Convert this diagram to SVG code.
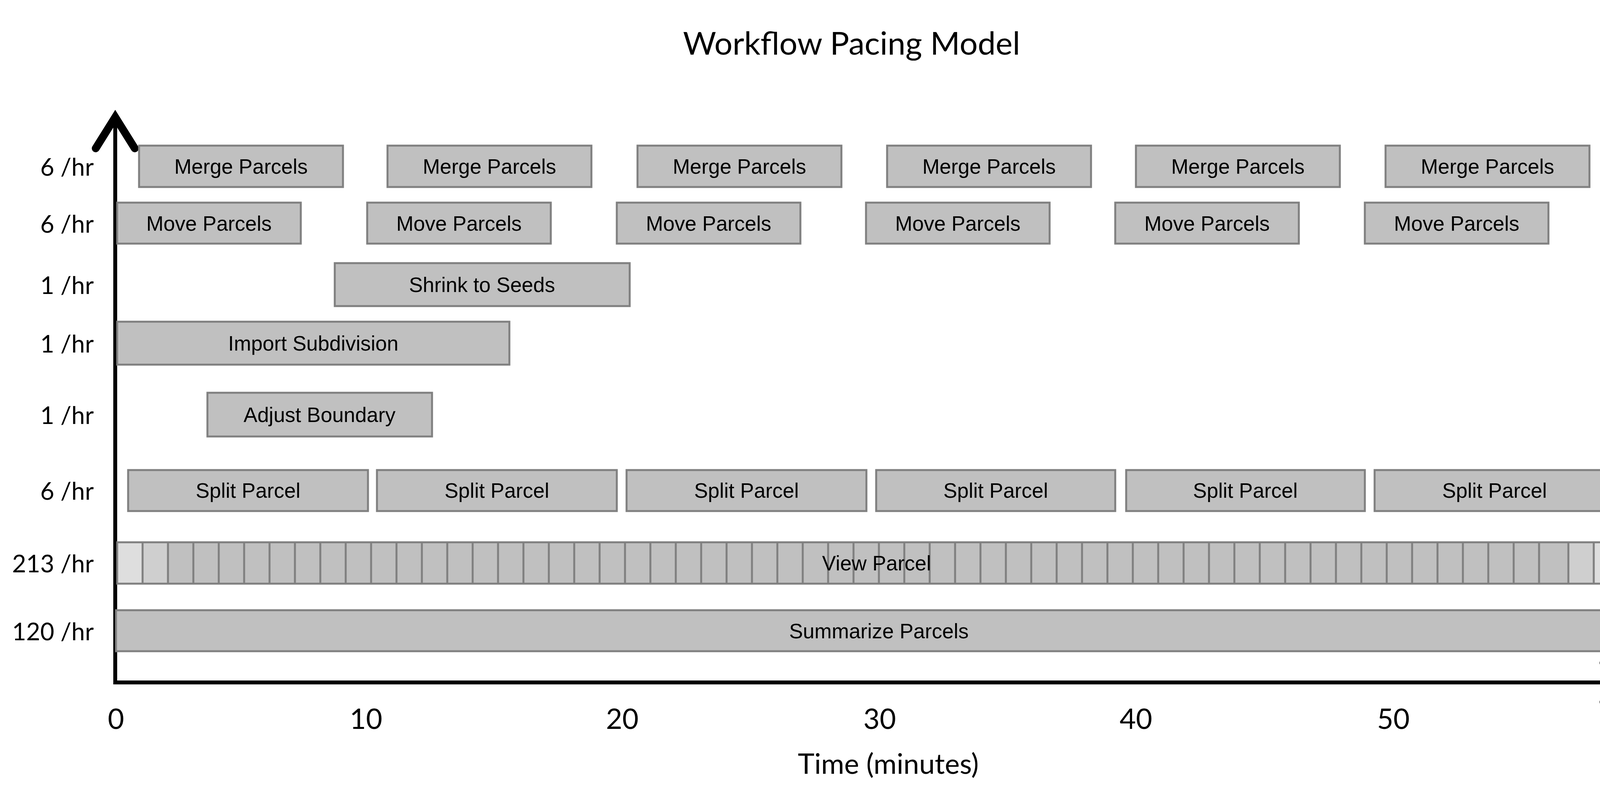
<svg xmlns="http://www.w3.org/2000/svg" width="4345" height="2044" viewBox="0 0 4345 2044">
<style>
.b{fill:#c0c0c0;stroke:#808080;stroke-width:5}
.t{font-family:"Liberation Sans",Arial,sans-serif;font-size:53px;text-anchor:middle;dominant-baseline:central;fill:#000}
.r{font-family:Lato,"Open Sans",sans-serif;font-size:62px;text-anchor:end;dominant-baseline:central}
.d{font-family:"Liberation Sans",Arial,sans-serif;font-size:46px;dominant-baseline:central}
.k{font-family:Lato,"Open Sans",sans-serif;font-size:72px;text-anchor:middle}
.ax{stroke:#000;stroke-width:10;fill:none}
</style>
<defs>
<marker id="ah" markerWidth="12" markerHeight="12" refX="9" refY="6" orient="auto" markerUnits="strokeWidth">
<path d="M1,1 L9,6 L1,11" fill="none" stroke="#000" stroke-width="2" stroke-linecap="round" stroke-linejoin="miter"/>
</marker>
</defs>
<text x="2180" y="140" font-family="Lato,'Open Sans',sans-serif" font-size="82" text-anchor="middle">Workflow Pacing Model</text>
<g id="connectors">
<path class="ax" d="M295,1750 L295,300" marker-end="url(#ah)"/>
<path class="ax" d="M290,1748 L4185,1748" marker-end="url(#ah)"/>
</g>
<g id="rates">
<text class="r" x="240" y="426">6 /hr</text>
<text class="r" x="240" y="572">6 /hr</text>
<text class="r" x="240" y="729">1 /hr</text>
<text class="r" x="240" y="879">1 /hr</text>
<text class="r" x="240" y="1062">1 /hr</text>
<text class="r" x="240" y="1256">6 /hr</text>
<text class="r" x="240" y="1442">213 /hr</text>
<text class="r" x="240" y="1616">120 /hr</text>
</g>
<g id="durations">
<text class="d" x="4170" y="426">3m</text>
<text class="d" x="4170" y="572">3m</text>
<text class="d" x="4170" y="729">4m</text>
<text class="d" x="4170" y="879">6m</text>
<text class="d" x="4170" y="1062">3m</text>
<text class="d" x="4170" y="1256">5m</text>
<text class="d" x="4170" y="1442">1m</text>
<text class="d" x="4170" y="1616">30s</text>
</g>
<g id="merge">
<rect class="b" x="356" y="373" width="522" height="106"/><text class="t" x="617" y="426">Merge Parcels</text>
<rect class="b" x="992" y="373" width="522" height="106"/><text class="t" x="1253" y="426">Merge Parcels</text>
<rect class="b" x="1632" y="373" width="522" height="106"/><text class="t" x="1893" y="426">Merge Parcels</text>
<rect class="b" x="2271" y="373" width="522" height="106"/><text class="t" x="2532" y="426">Merge Parcels</text>
<rect class="b" x="2908" y="373" width="522" height="106"/><text class="t" x="3169" y="426">Merge Parcels</text>
<rect class="b" x="3547" y="373" width="522" height="106"/><text class="t" x="3808" y="426">Merge Parcels</text>
</g>
<g id="move">
<rect class="b" x="300" y="519" width="470" height="105"/><text class="t" x="535" y="572">Move Parcels</text>
<rect class="b" x="940" y="519" width="470" height="105"/><text class="t" x="1175" y="572">Move Parcels</text>
<rect class="b" x="1579" y="519" width="470" height="105"/><text class="t" x="1814" y="572">Move Parcels</text>
<rect class="b" x="2217" y="519" width="470" height="105"/><text class="t" x="2452" y="572">Move Parcels</text>
<rect class="b" x="2855" y="519" width="470" height="105"/><text class="t" x="3090" y="572">Move Parcels</text>
<rect class="b" x="3494" y="519" width="470" height="105"/><text class="t" x="3729" y="572">Move Parcels</text>
</g>
<g id="shrink"><rect class="b" x="857" y="674" width="755" height="110"/><text class="t" x="1234" y="729">Shrink to Seeds</text></g>
<g id="import"><rect class="b" x="300" y="824" width="1004" height="110"/><text class="t" x="802" y="879">Import Subdivision</text></g>
<g id="adjust"><rect class="b" x="531" y="1006" width="575" height="112"/><text class="t" x="818" y="1062">Adjust Boundary</text></g>
<g id="split">
<rect class="b" x="328" y="1204" width="614" height="105"/><text class="t" x="635" y="1256">Split Parcel</text>
<rect class="b" x="965" y="1204" width="614" height="105"/><text class="t" x="1272" y="1256">Split Parcel</text>
<rect class="b" x="1604" y="1204" width="614" height="105"/><text class="t" x="1911" y="1256">Split Parcel</text>
<rect class="b" x="2243" y="1204" width="612" height="105"/><text class="t" x="2549" y="1256">Split Parcel</text>
<rect class="b" x="2883" y="1204" width="611" height="105"/><text class="t" x="3188" y="1256">Split Parcel</text>
<rect class="b" x="3519" y="1204" width="615" height="105"/><text class="t" x="3826" y="1256">Split Parcel</text>
</g>
<g id="view">
<rect x="300" y="1389" width="3845" height="106" fill="#c0c0c0"/>
<rect x="300" y="1389" width="65" height="106" fill="#dedede"/>
<rect x="365" y="1389" width="65" height="106" fill="#cfcfcf"/>
<rect x="4015" y="1389" width="65" height="106" fill="#cfcfcf"/>
<rect x="4080" y="1389" width="65" height="106" fill="#dedede"/>
<path stroke="#808080" stroke-width="5" d="M365,1389V1495M430,1389V1495M495,1389V1495M560,1389V1495M625,1389V1495M690,1389V1495M755,1389V1495M820,1389V1495M885,1389V1495M950,1389V1495M1015,1389V1495M1080,1389V1495M1145,1389V1495M1210,1389V1495M1275,1389V1495M1340,1389V1495M1405,1389V1495M1470,1389V1495M1535,1389V1495M1600,1389V1495M1665,1389V1495M1730,1389V1495M1795,1389V1495M1860,1389V1495M1925,1389V1495M1990,1389V1495M2055,1389V1495M2120,1389V1495M2185,1389V1495M2250,1389V1495M2315,1389V1495M2380,1389V1495M2445,1389V1495M2510,1389V1495M2575,1389V1495M2640,1389V1495M2705,1389V1495M2770,1389V1495M2835,1389V1495M2900,1389V1495M2965,1389V1495M3030,1389V1495M3095,1389V1495M3160,1389V1495M3225,1389V1495M3290,1389V1495M3355,1389V1495M3420,1389V1495M3485,1389V1495M3550,1389V1495M3615,1389V1495M3680,1389V1495M3745,1389V1495M3810,1389V1495M3875,1389V1495M3940,1389V1495M4015,1389V1495M4080,1389V1495"/>
<rect x="300" y="1389" width="3845" height="106" fill="none" stroke="#808080" stroke-width="5"/>
<text class="t" x="2244" y="1442">View Parcel</text>
</g>
<g id="summarize"><rect class="b" x="297" y="1563" width="3848" height="105"/><text class="t" x="2250" y="1616">Summarize Parcels</text></g>
<g id="ticks">
<text class="k" x="297" y="1867">0</text>
<text class="k" x="937" y="1867">10</text>
<text class="k" x="1593" y="1867">20</text>
<text class="k" x="2252" y="1867">30</text>
<text class="k" x="2908" y="1867">40</text>
<text class="k" x="3567" y="1867">50</text>
<text class="k" x="4215" y="1867">60</text>
<text class="k" x="2274" y="1982" font-size="66">Time (minutes)</text>
</g>
</svg>
